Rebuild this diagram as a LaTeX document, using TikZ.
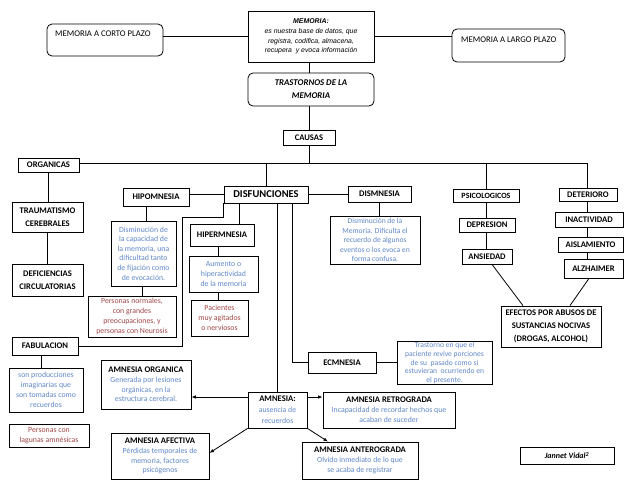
\documentclass[tikz,border=0pt]{standalone}
\usepackage{fontspec}
\setmainfont{Carlito}
\newfontfamily\arialf{Liberation Sans}
\usetikzlibrary{arrows.meta}
\definecolor{descblue}{RGB}{95,135,200}
\definecolor{descred}{RGB}{160,70,70}
\tikzset{
  box/.style={draw, line width=0.8pt, inner sep=1pt, align=center, anchor=center},
  rbox/.style={box, rounded corners=5pt},
  lbl/.style={box, font=\fontsize{8.6}{11}\selectfont\bfseries},
  desc/.style={box, font=\fontsize{7.8}{9.8}\selectfont, text=descblue},
  rdesc/.style={box, font=\fontsize{7.8}{9.8}\selectfont, text=descred},
  tbox/.style={box, font=\fontsize{7.8}{9.8}\selectfont},
  conn/.style={line width=0.8pt},
  arr/.style={conn, -{Latex[length=4.5pt,width=3.5pt]}},
  plain/.style={anchor=west, inner sep=0pt, font=\fontsize{8.7}{10}\selectfont}
}
\begin{document}
\begin{tikzpicture}[x=1pt,y=-1pt]
\useasboundingbox (0,0) rectangle (638,493);

% top
\node[rbox, minimum width=116pt, minimum height=32pt] (corto) at (105,40) {};
\node[plain] (cortot) at (55,34) {MEMORIA A CORTO PLAZO};
\node[box, minimum width=126pt, minimum height=51pt, font=\fontsize{6.9}{9.7}\selectfont\arialf\itshape] (memoria) at (311,36.5)
  {{\bfseries MEMORIA:}\\es nuestra base de datos, que\\registra, codifica, almacena,\\recupera \ y evoca información};
\node[rbox, minimum width=113pt, minimum height=33pt] (largo) at (508.5,45.5) {};
\node[plain] (largot) at (461,40) {MEMORIA A LARGO PLAZO};
\node[rbox, minimum width=126pt, minimum height=33pt, font=\fontsize{8.8}{13}\selectfont\bfseries\itshape] (tras) at (311,89.5) {TRASTORNOS DE LA\\MEMORIA};
\node[lbl, minimum width=52pt, minimum height=15pt] (causas) at (309,137.5) {CAUSAS};

% organicas
\node[lbl, minimum width=61pt, minimum height=14pt] (organicas) at (48.5,165) {ORGANICAS};
\node[lbl, minimum width=71pt, minimum height=30pt, font=\fontsize{8.6}{13}\selectfont\bfseries] (traum) at (47.5,217) {TRAUMATISMO\\CEREBRALES};
\node[lbl, minimum width=71pt, minimum height=32pt, font=\fontsize{8.6}{13}\selectfont\bfseries] (defic) at (47.5,280) {DEFICIENCIAS\\CIRCULATORIAS};

% disfunciones
\node[lbl, minimum width=84pt, minimum height=17pt, font=\fontsize{10.5}{12}\selectfont\bfseries] (disf) at (266,194.5) {DISFUNCIONES};
\node[lbl, minimum width=66pt, minimum height=18pt] (hipo) at (156,197) {HIPOMNESIA};
\node[desc, minimum width=65pt, minimum height=65pt, font=\fontsize{7.8}{9.6}\selectfont] (hipod) at (143.5,253.5)
  {Disminución de\\la capacidad de\\la memoria, una\\dificultad tanto\\de fijación como\\de evocación.};
\node[rdesc, minimum width=88pt, minimum height=41pt] (hipor) at (132,316.5)
  {Personas normales,\\con grandes\\preocupaciones, y\\personas con Neurosis};
\node[lbl, minimum width=64pt, minimum height=22pt] (hiper) at (222,235) {HIPERMNESIA};
\node[desc, minimum width=69pt, minimum height=36pt] (hiperd) at (223.5,274) {Aumento o\\hiperactividad\\de la memoria};
\node[rdesc, minimum width=57pt, minimum height=36pt] (hiperr) at (219.5,318) {Pacientes\\muy agitados\\o nerviosos};
\node[lbl, minimum width=63pt, minimum height=16pt] (dism) at (379.5,194) {DISMNESIA};
\node[desc, minimum width=90pt, minimum height=48pt, font=\fontsize{7.6}{9.4}\selectfont] (dismd) at (375,240)
  {Disminución de la\\Memoria. Dificulta el\\recuerdo de algunos\\eventos o los evoca en\\forma confusa.};

% fabulacion
\node[lbl, minimum width=66pt, minimum height=18pt] (fab) at (45,346) {FABULACION};
\node[desc, minimum width=74pt, minimum height=44pt] (fabd) at (46,390) {son producciones\\imaginarias que\\son tomadas como\\recuerdos};
\node[rdesc, minimum width=80pt, minimum height=23pt] (fabr) at (49,435.5) {Personas con\\lagunas amnésicas};

% ecmnesia
\node[lbl, minimum width=68pt, minimum height=21pt] (ecm) at (342,362.5) {ECMNESIA};
\node[desc, minimum width=95pt, minimum height=42pt, font=\fontsize{7.6}{8.6}\selectfont] (ecmd) at (444.5,363)
  {Trastorno en que el\\paciente revive porciones\\de su \ pasado como si\\estuvieran \ ocurriendo en\\el presente.};

% amnesia
\node[tbox, minimum width=59pt, minimum height=36pt, font=\fontsize{7.8}{11}\selectfont] (amn) at (277.5,410)
  {{\fontsize{8.6}{11}\selectfont\bfseries AMNESIA:}\\\textcolor{descblue}{ausencia de}\\\textcolor{descblue}{recuerdos}};
\node[tbox, minimum width=90pt, minimum height=49pt] (aorg) at (146,384.5)
  {{\fontsize{8.6}{11}\selectfont\bfseries AMNESIA ORGANICA}\\\textcolor{descblue}{Generada por lesiones}\\\textcolor{descblue}{orgánicas, en la}\\\textcolor{descblue}{estructura cerebral.}};
\node[tbox, minimum width=132pt, minimum height=36pt] (aret) at (389,410)
  {{\fontsize{8.6}{11}\selectfont\bfseries AMNESIA RETROGRADA}\\\textcolor{descblue}{Incapacidad de recordar hechos que}\\\textcolor{descblue}{acaban de suceder}};
\node[tbox, minimum width=98pt, minimum height=46pt] (aafe) at (160,456)
  {{\fontsize{8.6}{11}\selectfont\bfseries AMNESIA AFECTIVA}\\\textcolor{descblue}{Pérdidas temporales de}\\\textcolor{descblue}{memoria, factores}\\\textcolor{descblue}{psicógenos}};
\node[tbox, minimum width=116pt, minimum height=37pt] (aant) at (360,460.5)
  {{\fontsize{8.6}{11}\selectfont\bfseries AMNESIA ANTEROGRADA}\\\textcolor{descblue}{Olvido inmediato de lo que}\\\textcolor{descblue}{se acaba de registrar}};

% psicologicos / deterioro
\node[lbl, minimum width=66pt, minimum height=13pt, font=\fontsize{8}{10}\selectfont\bfseries] (psic) at (486,195.5) {PSICOLOGICOS};
\node[lbl, minimum width=56pt, minimum height=14pt] (depr) at (487,225) {DEPRESION};
\node[lbl, minimum width=50pt, minimum height=15pt] (ansi) at (487,256.5) {ANSIEDAD};
\node[lbl, minimum width=58pt, minimum height=13pt] (dete) at (588,194.5) {DETERIORO};
\node[lbl, minimum width=68pt, minimum height=15pt] (inac) at (589,219.5) {INACTIVIDAD};
\node[lbl, minimum width=65pt, minimum height=15pt] (aisl) at (590.5,244.5) {AISLAMIENTO};
\node[lbl, minimum width=59pt, minimum height=19pt] (alzh) at (593.5,268.5) {ALZHAIMER};
\node[lbl, minimum width=100pt, minimum height=41pt, font=\fontsize{8.6}{13}\selectfont\bfseries] (efec) at (551,326.5)
  {EFECTOS POR ABUSOS DE\\SUSTANCIAS NOCIVAS\\(DROGAS, ALCOHOL)};

\node[lbl, minimum width=94pt, minimum height=17pt, font=\fontsize{8}{10}\selectfont\bfseries\itshape] (jv) at (567,455.5) {Jannet Vidal\textsuperscript{2}};

% helper coordinates
\coordinate (busy) at (0,163);
\coordinate (arow) at (0,397);
\coordinate (fj) at (182,217);

% connectors
\draw[conn] (corto.east |- memoria.west) -- (memoria.west);
\draw[conn] (memoria.east) -- (memoria.east -| largo.west);
\draw[conn] (memoria.south -| causas.north) -- (tras.north -| causas.north);
\draw[conn] (tras.south -| causas.north) -- (causas.north);
\draw[conn] (causas.south) -- (causas.south |- busy);
\draw[conn] (organicas.east |- busy) -- ([xshift=-1pt]dete.north |- busy) -- ([xshift=-1pt]dete.north);
\draw[conn] (disf.north |- busy) -- (disf.north);
\draw[conn] (psic.north |- busy) -- (psic.north);
\draw[conn] (organicas.south) -- (organicas.south |- traum.north);
\draw[conn] (traum.south) -- (defic.north);
\draw[conn] (hipo.east |- disf.west) -- (disf.west);
\draw[conn] (disf.east) -- (disf.east -| dism.west);
\draw[conn] ([xshift=3pt]hipod.north) -- ([xshift=3pt]hipod.north |- hipo.south);
\draw[conn] ([xshift=-1pt]hipod.south) -- ([xshift=-1pt]hipod.south |- hipor.north);
\draw[conn] ([xshift=17pt]hiper.north) -- ([xshift=17pt]hiper.north |- disf.south);
\draw[conn] ([xshift=-4pt]hiper.south) -- ([xshift=-4pt]hiper.south |- hiperd.north);
\draw[conn] ([xshift=-1.5pt]hiperr.north) -- ([xshift=-1.5pt]hiperr.north |- hiperd.south);
\draw[conn] (dism.south) -- (dism.south |- dismd.north);
\draw[conn] (disf.south west) |- (fj) |- (fab.east);
\draw[conn] ([xshift=-4pt]fab.south) -- ([xshift=-4pt]fab.south |- fabd.north);
\draw[conn] ([xshift=26pt]disf.south) |- (ecm.west);
\draw[conn] (amn.north |- disf.south) -- (amn.north);
\draw[conn] (ecm.east) -- (ecm.east -| ecmd.west);
\draw[arr] (amn.west |- arow) -- (aorg.east |- arow);
\draw[arr] (amn.east |- arow) -- (aret.west |- arow);
\draw[arr] (amn.south west) -- ([yshift=3pt]aafe.east);
\draw[arr] (amn.south east) -- ([xshift=-32pt]aant.north);
\draw[conn] (psic.south) -- (psic.south |- depr.north);
\draw[conn] (depr.south -| psic.south) -- (ansi.north -| psic.south);
\draw[conn] ([xshift=-1pt]dete.south) -- ([xshift=-1pt]dete.south |- inac.north);
\draw[conn] ([xshift=-1pt]dete.south |- inac.south) -- ([xshift=-1pt]dete.south |- aisl.north);
\draw[conn] ([xshift=-1pt]dete.south |- aisl.south) -- ([xshift=-1pt]dete.south |- alzh.north);
\draw[conn] ([xshift=5pt]ansi.south) -- ([xshift=-28pt]efec.north);
\draw[conn] ([xshift=-4.5pt]alzh.south) -- ([xshift=19pt]efec.north);
\end{tikzpicture}
\end{document}
